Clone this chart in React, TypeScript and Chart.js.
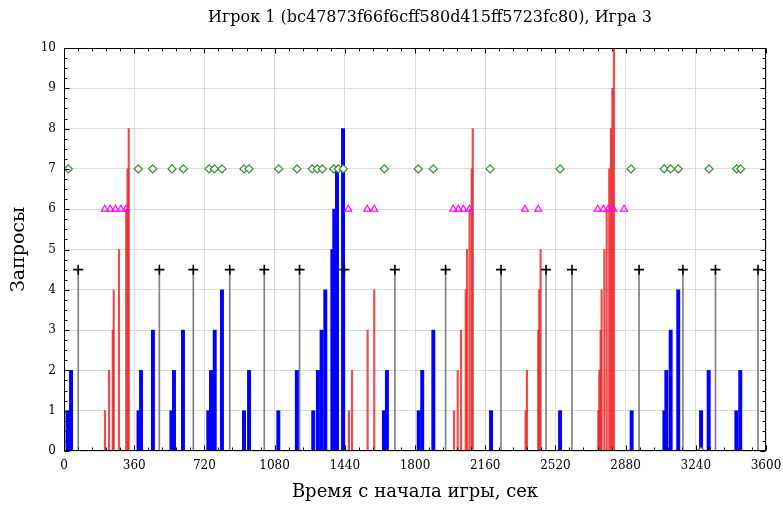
import React, { useEffect, useRef } from "react";
import { Chart, registerables } from "chart.js";

Chart.register(...registerables);

const TITLE = "Игрок 1 (bc47873f66f6cff580d415ff5723fc80), Игра 3";
const X_TITLE = "Время с начала игры, сек";
const Y_TITLE = "Запросы";

const xTickValues = [0, 360, 720, 1080, 1440, 1800, 2160, 2520, 2880, 3240, 3600];
const yTickValues = [0, 1, 2, 3, 4, 5, 6, 7, 8, 9, 10];

// blue request bars (time, cumulative count)
const blueTimes = [18, 36, 382, 395, 456, 551, 564, 610, 740, 754, 773, 810, 923, 949, 1099, 1194,
  1278, 1302, 1321, 1340, 1376, 1386, 1400, 1431, 1641, 1656, 1819, 1837, 1894, 2190, 2544, 2911,
  3079, 3089, 3111, 3150, 3267, 3306, 3448, 3468];
const blueCounts = [1, 2, 1, 2, 3, 1, 2, 3, 1, 2, 3, 4, 1, 2, 1, 2,
  1, 2, 3, 4, 5, 6, 7, 8, 1, 2, 1, 2, 3, 1, 1, 1,
  1, 2, 3, 4, 1, 2, 1, 2];

// red request lines
const redTimes = [210, 231, 250, 255, 282, 319, 326, 332,
  1461, 1477, 1557, 1591,
  2000, 2019, 2036, 2060, 2067, 2080, 2091, 2096,
  2367, 2374, 2432, 2437, 2444,
  2740, 2745, 2752, 2757, 2771, 2783, 2796, 2805, 2812, 2820];
const redCounts = [1, 2, 3, 4, 5, 6, 7, 8,
  1, 2, 3, 4,
  1, 2, 3, 4, 5, 6, 7, 8,
  1, 2, 3, 4, 5,
  1, 2, 3, 4, 5, 6, 7, 8, 9, 10];

// black "+" stems
const stemTimes = [73, 489, 663, 850, 1027, 1208, 1438, 1697, 1957, 2241, 2472, 2605, 2949, 3174, 3341, 3559];
const stemLevel = 4.5;

// green diamonds
const diamondTimes = [22, 381, 455, 554, 612, 744, 771, 810, 923, 949, 1101, 1195, 1273, 1299, 1325,
  1383, 1407, 1432, 1643, 1817, 1894, 2185, 2544, 2908, 3078, 3111, 3150, 3267, 3308, 3450, 3470];
const diamondLevels = [7, 7, 7, 7, 7, 7, 7, 7, 7, 7, 7, 7, 7, 7, 7,
  7, 7, 7, 7, 7, 7, 7, 7, 7, 7, 7, 7, 0, 7, 7, 7];

// magenta triangles
const triangleTimes = [209, 237, 264, 292, 319, 1458, 1555, 1591, 1996, 2022, 2048, 2079, 2364, 2432,
  2737, 2766, 2791, 2817, 2872];
const triangleLevel = 6;

const FONT = "'DejaVu Serif', serif";

const framePlugin = {
  id: "frame",
  afterDatasetsDraw(chart: any) {
    const { ctx, chartArea, scales } = chart;
    const xs = scales.x;
    const ys = scales.y;
    const l = Math.round(chartArea.left) + 0.5;
    const r = Math.round(chartArea.right) - 0.5;
    const t = Math.round(chartArea.top) + 0.5;
    const b = Math.round(chartArea.bottom) - 0.5;
    ctx.save();
    ctx.strokeStyle = "#000";
    ctx.lineWidth = 1;
    ctx.beginPath();
    for (let v = 0; v <= 3600; v += 72) {
      const px = Math.round(xs.getPixelForValue(v)) + 0.5;
      const len = v % 360 === 0 ? 5 : 3;
      ctx.moveTo(px, t);
      ctx.lineTo(px, t + len);
      ctx.moveTo(px, b);
      ctx.lineTo(px, b - len);
    }
    for (let v = 0; v <= 10.001; v += 0.25) {
      const py = Math.round(ys.getPixelForValue(v)) + 0.5;
      const len = Math.abs(v - Math.round(v)) < 0.01 ? 5 : 3;
      ctx.moveTo(l, py);
      ctx.lineTo(l + len, py);
      ctx.moveTo(r, py);
      ctx.lineTo(r - len, py);
    }
    ctx.stroke();
    ctx.strokeRect(l, t, r - l, b - t);
    ctx.restore();
  },
  afterDraw(chart: any) {
    const { ctx } = chart;
    ctx.save();
    ctx.fillStyle = "#000";
    ctx.font = `16px ${FONT}`;
    ctx.textAlign = "center";
    ctx.textBaseline = "middle";
    ctx.fillText(TITLE, 430, 18);
    ctx.restore();
  },
};

export default function App() {
  const ref = useRef<HTMLCanvasElement | null>(null);

  useEffect(() => {
    const canvas = ref.current;
    if (!canvas) return;
    const blue = blueTimes.map((t, i) => ({ x: t, y: blueCounts[i] }));
    const red = redTimes.map((t, i) => ({ x: t, y: redCounts[i] }));
    const stems = stemTimes.map((t) => ({ x: t, y: stemLevel }));
    const diamonds = diamondTimes.map((t, i) => ({ x: t, y: diamondLevels[i] }));
    const triangles = triangleTimes.map((t) => ({ x: t, y: triangleLevel }));

    const chart = new Chart(canvas, {
      type: "bar",
      data: {
        datasets: [
          {
            type: "bar",
            data: stems,
            backgroundColor: "#808080",
            barThickness: 1,
            order: 6,
          },
          {
            type: "bar",
            data: red,
            backgroundColor: "rgba(235,30,30,0.8)",
            barThickness: 1.5,
            order: 5,
          },
          {
            type: "bar",
            data: blue,
            backgroundColor: "#0000ff",
            barThickness: 3.3,
            order: 4,
          },
          {
            type: "scatter",
            data: triangles,
            pointStyle: "triangle",
            radius: 4,
            borderColor: "#ff00ff",
            backgroundColor: "rgba(0,0,0,0)",
            borderWidth: 1.2,
            order: 3,
          },
          {
            type: "scatter",
            data: diamonds,
            pointStyle: "rectRot",
            radius: 4,
            borderColor: "#2e8b2e",
            backgroundColor: "#ffffff",
            borderWidth: 1.2,
            order: 2,
          },
          {
            type: "scatter",
            data: stems,
            pointStyle: "cross",
            radius: 5,
            borderColor: "#000000",
            borderWidth: 1.6,
            order: 1,
          },
        ] as any,
      },
      options: {
        responsive: false,
        animation: false,
        events: [],
        layout: { padding: { left: 0, right: 17, top: 48, bottom: 0 } },
        plugins: {
          legend: { display: false },
          tooltip: { enabled: false },
          title: { display: false },
        },
        scales: {
          x: {
            type: "linear",
            min: 0,
            max: 3600,
            offset: false,
            stacked: true,
            afterBuildTicks: (s: any) => {
              s.ticks = xTickValues.map((v) => ({ value: v }));
            },
            afterFit: (s: any) => {
              s.height = 54;
              s.paddingLeft = 0;
              s.paddingRight = 0;
            },
            grid: { offset: false, color: "#dcdcdc", drawTicks: false },
            border: { display: false },
            ticks: {
              padding: 8,
              color: "#000",
              maxRotation: 0,
              autoSkip: false,
              font: { family: FONT, size: 12 },
              callback: (v: any) => String(v),
            },
            title: {
              display: true,
              text: X_TITLE,
              color: "#000",
              font: { family: FONT, size: 18, lineHeight: 1.2 },
              padding: { top: 0, bottom: 2 },
            },
          },
          y: {
            type: "linear",
            min: 0,
            max: 10,
            stacked: false,
            afterBuildTicks: (s: any) => {
              s.ticks = yTickValues.map((v) => ({ value: v }));
            },
            afterFit: (s: any) => {
              s.width = 64;
              s.paddingTop = 0;
              s.paddingBottom = 0;
            },
            grid: { color: "#dcdcdc", drawTicks: false },
            border: { display: false },
            ticks: {
              padding: 8,
              color: "#000",
              autoSkip: false,
              font: { family: FONT, size: 12 },
              callback: (v: any) => String(v),
            },
            title: {
              display: true,
              text: Y_TITLE,
              color: "#000",
              font: { family: FONT, size: 19, lineHeight: 1.2 },
              padding: { top: 8, bottom: 0 },
            },
          },
        },
      } as any,
      plugins: [framePlugin],
    });
    return () => chart.destroy();
  }, []);

  return (
    <div style={{ position: "absolute", left: 0, top: 0, width: 783, height: 505, background: "#fff" }}>
      <canvas ref={ref} width={783} height={505} style={{ display: "block" }} />
    </div>
  );
}
